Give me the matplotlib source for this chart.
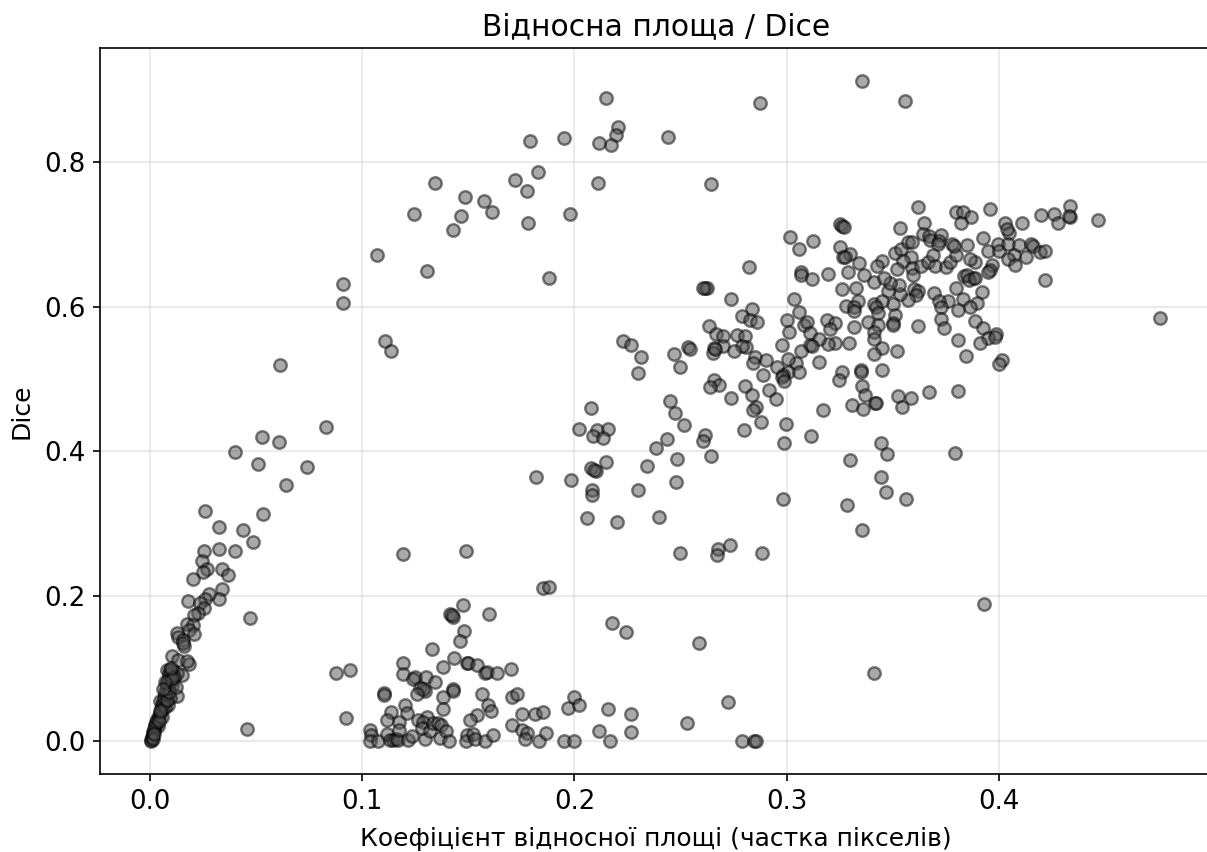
import matplotlib
matplotlib.use("Agg")
import matplotlib.pyplot as plt

# ── Data ──────────────────────────────────────────────────────────
# (relative area, dice) pairs, grouped by region of the scatter
upper_arc = [
    (.3355,.911),(.3558,.884),(.2875,.881),(.2149,.888),(.2205,.848),(.2196,.837),(.2172,.823),(.2116,.826),
    (.195,.833),(.2441,.834),(.179,.829),(.1828,.786),(.172,.775),(.1777,.760),(.2111,.771),(.2644,.769),
    (.1343,.771),(.1484,.751),(.1574,.746),(.1612,.731),(.1466,.725),(.1428,.706),(.1244,.728),(.1781,.7155),
    (.198,.728),(.107,.671),(.1305,.649),(.188,.639),(.091,.631),(.091,.605),(.1107,.5525),(.1136,.539),
    (.0613,.519),(.083,.434),(.0608,.413),(.0528,.42),(.04,.399),(.0509,.383),(.0641,.3536),(.074,.378),
    (.182,.364),(.149,.262),(.119,.258),(.1852,.2115),(.1881,.2127),
]
near_origin = [
    (.0259,.3177),(.0532,.3136),(.0326,.2952),(.0436,.291),(.0483,.2745),(.0254,.263),(.0325,.2653),(.0402,.2625),
    (.0243,.2492),(.0267,.2377),(.0251,.2331),(.034,.2377),(.0369,.229),(.0203,.2243),(.0338,.2096),(.0326,.1967),
    (.0279,.2032),(.0259,.1963),(.018,.1935),(.0236,.1903),(.0254,.1834),(.0228,.1774),(.0207,.1742),(.0473,.1696),
    (.0173,.1618),(.0204,.1604),(.0185,.1535),(.0209,.148),(.0126,.149),(.0133,.1434),(.0154,.1397),(.0162,.1305),
    (.0157,.1351),(.0102,.1176),(.0133,.1121),(.0185,.1066),(.0173,.1098),(.0082,.0983),(.011,.096),(.015,.0914),
    (.0126,.0937),(.0094,.0891),(.0078,.0799),(.0102,.0776),(.0086,.073),(.0126,.0624),(.0094,.0592),(.0047,.0546),
    (.0071,.0546),(.0086,.05),(.0055,.0422),(.0063,.048),(.0039,.0293),(.0039,.0201),(.0024,.0201),(.0008,.004),
    (.0003,0),(.0016,.0109),(.0455,.0169),(.0005,.002),(.001,.006),(.0015,.012),(.002,.016),(.0025,.022),
    (.003,.026),(.0035,.03),(.004,.034),(.0045,.038),(.005,.044),(.0055,.05),(.006,.054),(.0065,.06),
    (.007,.066),(.0075,.07),(.008,.078),(.0085,.084),(.009,.092),(.0095,.098),(.0055,.033),(.007,.047),
    (.008,.057),(.009,.067),(.01,.083),(.0115,.088),(.012,.075),(.0105,.0865),(.0068,.081),(.0062,.072),
    (.0098,.1005),(.0042,.027),(.0048,.041),(.0012,.003),(.002,.009),
]
bottom_cluster = [
    (.1473,.1884),(.1597,.1755),(.1413,.1755),(.1429,.1718),(.1421,.1741),(.1481,.1516),(.146,.1387),(.1327,.1267),
    (.119,.1083),(.119,.0927),(.0942,.0982),(.0877,.094),(.1382,.1019),(.1434,.1143),(.1492,.1083),(.15,.1074),
    (.1539,.1051),(.1578,.0945),(.1586,.0959),(.1636,.0936),(.1702,.0996),(.2178,.1626),(.2244,.1506),(.1248,.0881),
    (.1237,.0853),(.130,.089),(.1344,.0821),(.1272,.0738),(.1295,.0692),(.1288,.072),(.1256,.0655),(.1104,.066),
    (.1104,.0637),(.1429,.0715),(.1429,.0692),(.1382,.0614),(.1379,.0439),(.1565,.0651),(.1594,.049),(.1605,.0412),
    (.1539,.0352),(.1507,.0283),(.1704,.0614),(.173,.0642),(.1201,.049),(.1209,.0384),(.1134,.0398),(.1118,.0283),
    (.1173,.0269),(.1306,.0338),(.1264,.0292),(.1288,.0269),(.0923,.0315),(.1036,.0154),(.1039,.0085),(.1036,0),
    (.1072,0),(.1115,.0094),(.113,.0016),(.1143,.0007),(.1159,.003),(.117,.0016),(.1217,.0016),(.1233,.0062),
    (.1295,.003),(.128,.0177),(.1319,.0131),(.1335,.0246),(.1358,.0246),(.1369,.0214),(.1366,.004),(.1394,.0131),
    (.1408,.0002),(.1492,.0076),(.1488,0),(.1523,.0099),(.1531,.003),(.1578,.0002),(.1617,.0076),(.1708,.0214),
    (.1751,.0375),(.1813,.0379),(.1853,.0407),(.1755,.0154),(.1777,.0108),(.1769,.003),(.1834,0),(.1865,.0117),
    (.1952,0),(.1999,0),(.1971,.0462),(.1997,.0614),(.2021,.049),(.216,.0439),(.2266,.0375),(.2115,.0131),
    (.2167,0),(.2266,.0122),(.1174,.0154),(.253,.025),(.2724,.054),(.2587,.135),(.279,0),(.2846,0),(.2856,0),
    (.393,.189),(.3412,.094),
]
middle_band = [
    (.2822,.655),(.2615,.625),(.2626,.625),(.2607,.625),(.2736,.610),(.2835,.596),(.2792,.587),(.2827,.582),
    (.2861,.578),(.2634,.573),(.2665,.562),(.2698,.559),(.2764,.561),(.2803,.5595),(.2698,.546),
    (.2811,.544),(.2788,.5457),(.2753,.5384),(.2657,.5425),(.2654,.5356),(.2662,.541),(.285,.5296),(.2843,.5218),
    (.2803,.4905),(.2839,.478),(.2737,.474),(.2657,.498),(.2682,.492),(.2639,.489),
    (.2858,.461),(.284,.4565),(.28,.4293),(.2989,.4114),(.3114,.421),(.245,.470),(.2474,.453),
    (.2518,.4367),(.247,.5347),(.2496,.5158),(.2536,.5439),(.2544,.5411),(.223,.5526),(.2266,.547),(.2313,.530),
    (.2301,.5075),(.2078,.4597),(.202,.4307),(.2105,.4289),(.2157,.4303),(.2089,.4206),(.2133,.4178),(.2434,.4174),
    (.2386,.4045),(.2617,.4229),(.2604,.4146),(.2642,.393),(.2482,.3893),(.2343,.3792),(.2149,.3856),(.2078,.3764),
    (.2102,.3728),(.209,.3746),(.1984,.3608),(.2081,.347),(.2084,.3396),(.2301,.346),(.2478,.3576),(.2984,.3337),
    (.2058,.3079),(.2202,.3028),(.2397,.3088),(.2497,.2596),(.2675,.2651),(.2673,.2573),(.2733,.2706),(.2882,.2591),
]
upper_right = [
    (.362,.738),(.3797,.730),(.383,.730),(.387,.723),(.382,.716),(.396,.735),(.420,.726),(.426,.728),
    (.428,.715),(.4335,.739),(.4335,.724),(.433,.725),(.447,.719),(.403,.716),(.411,.715),(.405,.702),
    (.404,.707),(.3535,.709),(.3646,.715),(.373,.699),(.3644,.70),(.367,.698),(.3676,.692),(.372,.691),
    (.3715,.687),(.325,.714),(.326,.711),(.327,.7095),(.3016,.696),(.3125,.691),(.306,.679),(.325,.682),
    (.330,.672),(.3268,.669),(.3275,.668),(.334,.660),(.345,.663),(.3425,.656),(.351,.6736),(.3537,.680),
    (.3574,.689),(.359,.689),(.3585,.669),(.355,.663),(.359,.653),(.3597,.644),(.352,.6515),(.3633,.656),
    (.3668,.662),(.369,.671),(.370,.656),(.375,.654),(.377,.661),(.380,.671),(.378,.687),(.379,.684),
    (.385,.685),(.3927,.694),(.395,.677),(.3997,.687),(.40,.676),(.4045,.686),(.4096,.685),(.415,.687),
    (.4159,.683),(.4194,.675),(.4219,.676),(.4128,.669),(.407,.671),(.4045,.666),(.4076,.657),(.397,.657),
    (.3958,.651),(.395,.647),(.3888,.662),(.3864,.666),(.388,.640),(.3836,.642),(.3848,.644),(.386,.637),
    (.389,.640),(.4216,.636),(.392,.620),(.380,.625),(.3696,.618),(.383,.611),(.3899,.605),(.3864,.600),
    (.381,.595),(.376,.607),(.372,.607),(.3726,.600),(.36,.624),(.362,.621),(.361,.616),(.357,.609),
    (.3534,.617),(.35,.604),(.348,.621),(.353,.630),(.3487,.633),(.341,.6336),(.3365,.643),(.346,.639),
    (.329,.647),(.3194,.645),(.307,.647),(.3067,.644),(.312,.6386),(.326,.6235),(.3325,.625),(.3037,.610),
    (.306,.593),(.300,.582),(.301,.565),(.308,.575),(.3095,.579),(.311,.563),(.319,.582),(.3228,.577),
    (.3205,.569),(.332,.5715),(.328,.601),(.3338,.607),(.332,.600),(.332,.594),(.341,.603),(.3448,.608),
    (.342,.599),(.343,.591),(.351,.588),(.35,.577),(.35,.575),(.3385,.578),(.3429,.574),(.341,.565),
    (.341,.555),(.3618,.573),(.373,.583),(.374,.571),(.3888,.580),(.3927,.571),(.3987,.562),(.395,.556),
    (.398,.558),(.381,.554),(.391,.549),(.3845,.532),(.4013,.526),(.40,.520),(.352,.539),(.345,.5425),
    (.341,.534),(.3294,.549),(.323,.549),(.3197,.548),(.3153,.555),(.311,.547),(.312,.545),(.3068,.538),
    (.2977,.547),(.3153,.524),(.3045,.522),(.3008,.527),(.3008,.510),(.2903,.526),(.2957,.517),(.306,.510),
    (.2985,.506),(.2977,.503),(.2988,.4965),(.2888,.506),(.2919,.485),(.2949,.472),(.288,.441),
    (.2997,.438),(.3173,.4565),(.326,.510),(.3247,.499),(.3351,.512),(.3351,.510),(.345,.513),(.3355,.490),
    (.337,.478),(.3307,.464),(.3362,.458),(.3417,.467),(.342,.467),(.3523,.477),(.3585,.474),(.3544,.4615),
    (.367,.482),(.381,.483),(.476,.584),(.3794,.398),(.3285,.326),(.3355,.2914),(.3469,.344),(.3563,.334),
    (.3445,.4116),(.3445,.3646),(.3473,.3964),(.33,.388),
]

points = upper_arc + near_origin + bottom_cluster + middle_band + upper_right
x_vals = [p[0] for p in points]
y_vals = [p[1] for p in points]

TITLE = "Відносна площа / Dice"
XLABEL = "Коефіцієнт відносної площі (частка пікселів)"
YLABEL = "Dice"

W, H, DPI = 1207, 852, 150

fig = plt.figure(figsize=(W / DPI, H / DPI), dpi=DPI)
ax = fig.add_axes([100 / W, (H - 774) / H, 1112 / W, 726 / H])

ax.scatter(x_vals, y_vals, s=36, c="#555555", edgecolors="black", linewidths=1.15, alpha=0.5, zorder=3)

ax.set_xlim(-0.0236, 0.5005)
ax.set_ylim(-0.0456, 0.957)
ax.set_xticks([0.0, 0.1, 0.2, 0.3, 0.4])
ax.set_yticks([0.0, 0.2, 0.4, 0.6, 0.8])
ax.tick_params(labelsize=12.5)
ax.grid(True, alpha=0.3)

ax.set_title(TITLE, fontsize=14.3, pad=6)
ax.set_xlabel(XLABEL, fontsize=12, labelpad=6)
ax.set_ylabel(YLABEL, fontsize=12, labelpad=5)

fig.savefig("out.png", dpi=DPI)
